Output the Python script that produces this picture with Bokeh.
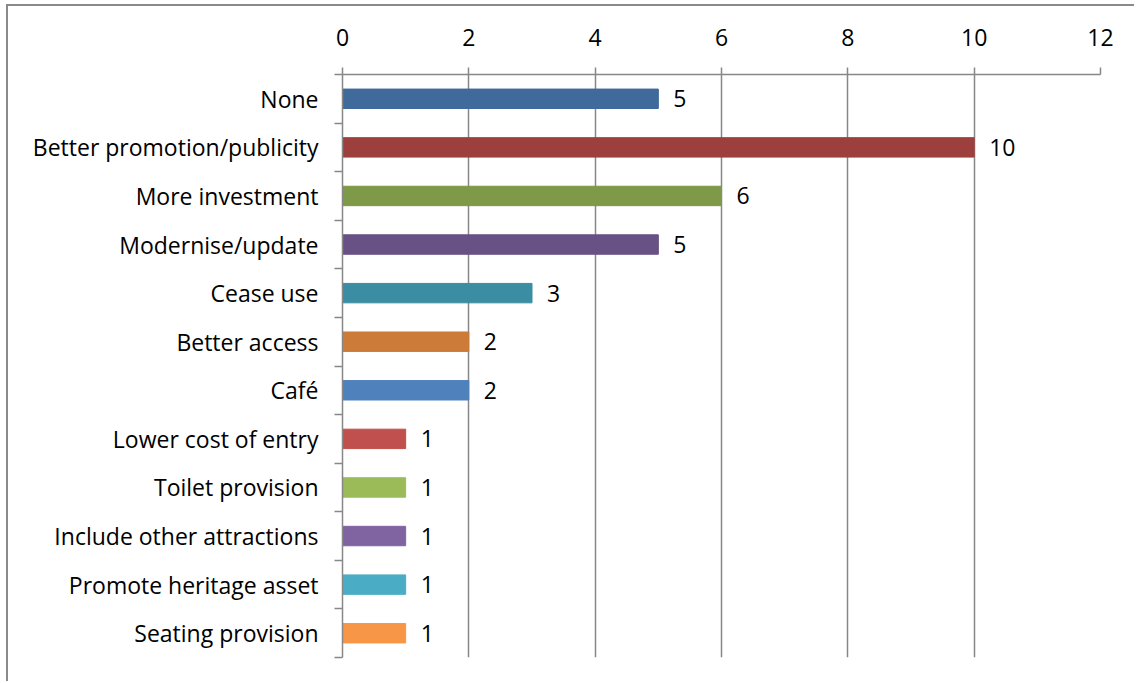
from bokeh.plotting import figure
from bokeh.models import Range1d, FixedTicker, ColumnDataSource, LabelSet
from bokeh.core.properties import value
from bokeh.embed import file_html
from bokeh.resources import INLINE

categories = ["None", "Better promotion/publicity", "More investment", "Modernise/update",
              "Cease use", "Better access", "Café", "Lower cost of entry", "Toilet provision",
              "Include other attractions", "Promote heritage asset", "Seating provision"]
values = [5, 10, 6, 5, 3, 2, 2, 1, 1, 1, 1, 1]
colors = ["#3F6A9B", "#9D403D", "#7E9947", "#685185", "#3A8DA2", "#CC7B38",
          "#4F81BD", "#C0504D", "#9BBB59", "#8064A2", "#4BACC6", "#F79646"]
x_ticks = [0, 2, 4, 6, 8, 10, 12]

n = len(categories)
ypos = [n - i for i in range(n)]
src = ColumnDataSource(dict(y=ypos, v=values, c=colors, lab=[str(v) for v in values]))

FONT = "Open Sans"
FS = "23px"
GRAY = "#878787"

p = figure(width=1128, height=677, output_backend="svg", toolbar_location=None,
           x_range=Range1d(0, 12), y_range=Range1d(0.5, n + 0.5),
           x_axis_location="above", y_axis_location="left",
           min_border_left=334, min_border_right=36, min_border_top=68, min_border_bottom=26)
p.outline_line_color = None
p.styles = {"margin-left": "6px", "margin-top": "4px",
            "border-left": "2px solid #8a8a8a", "border-top": "2px solid #8a8a8a"}

p.hbar(y="y", right="v", left=0, height=0.4, color="c", source=src)

labels = LabelSet(x="v", y="y", text="lab", source=src, x_offset=15, text_align="left",
                  text_baseline="middle", text_font=value(FONT), text_font_size=value(FS),
                  text_color="#000000")
p.add_layout(labels)

# x axis (top)
xa = p.xaxis[0]
xa.ticker = FixedTicker(ticks=x_ticks)
xa.axis_line_color = GRAY
xa.axis_line_width = 1.5
xa.major_tick_line_color = GRAY
xa.major_tick_line_width = 1.5
xa.major_tick_out = 7
xa.major_tick_in = 0
xa.minor_tick_line_color = None
xa.major_label_standoff = 22
xa.major_label_text_font = FONT
xa.major_label_text_font_size = FS
xa.major_label_text_color = "#000000"

# y axis
ya = p.yaxis[0]
ya.ticker = FixedTicker(ticks=ypos, minor_ticks=[k + 0.5 for k in range(n + 1)])
ya.major_label_overrides = {yy: c for yy, c in zip(ypos, categories)}
ya.axis_line_color = GRAY
ya.axis_line_width = 1.5
ya.major_tick_line_color = None
ya.major_tick_out = 0
ya.major_tick_in = 0
ya.minor_tick_line_color = GRAY
ya.minor_tick_line_width = 1.5
ya.minor_tick_out = 8
ya.minor_tick_in = 0
ya.major_label_standoff = 16
ya.major_label_text_font = FONT
ya.major_label_text_font_size = FS
ya.major_label_text_color = "#000000"

p.xgrid.grid_line_color = GRAY
p.xgrid.grid_line_width = 1.5
p.xgrid.ticker = FixedTicker(ticks=x_ticks)
p.ygrid.grid_line_color = None

open("out.html", "w").write(file_html(p, INLINE))
